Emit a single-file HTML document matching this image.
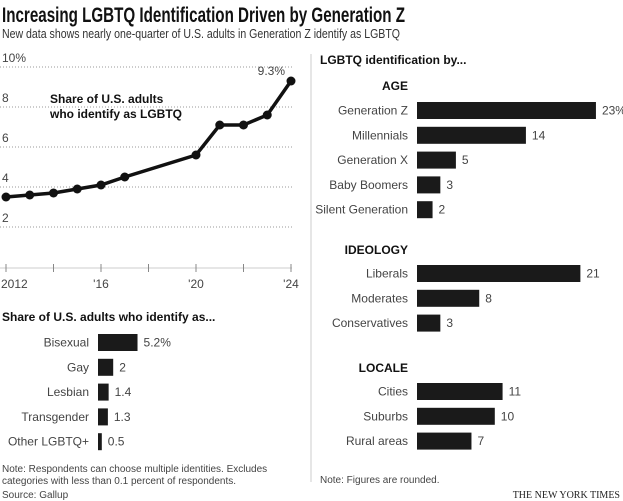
<!DOCTYPE html>
<html><head><meta charset="utf-8"><style>
body{margin:0;background:#fff}
svg{display:block;font-family:"Liberation Sans",sans-serif}
.g{fill:#444;font-size:12px}
.b{fill:#111;font-weight:bold;font-size:12px}
</style></head><body>
<svg id="c" width="623" height="501">
<text x="2" y="22" font-size="21" font-weight="bold" fill="#111" textLength="403" lengthAdjust="spacingAndGlyphs">Increasing LGBTQ Identification Driven by Generation Z</text>
<text x="2" y="38" font-size="13" fill="#333" textLength="398" lengthAdjust="spacingAndGlyphs">New data shows nearly one-quarter of U.S. adults in Generation Z identify as LGBTQ</text>
<line x1="311" y1="54" x2="311" y2="482" stroke="#ccc"/>
<g id="line"></g>
<text x="50" y="103" class="b">Share of U.S. adults</text>
<text x="50" y="118" class="b">who identify as LGBTQ</text>
<text x="2" y="321" class="b">Share of U.S. adults who identify as...</text>
<text x="320" y="64" class="b">LGBTQ identification by...</text>
<g id="bars"></g>
<text x="2" y="472" font-size="10" fill="#444">Note: Respondents can choose multiple identities. Excludes</text>
<text x="2" y="484" font-size="10" fill="#444">categories with less than 0.1 percent of respondents.</text>
<text x="2" y="498" font-size="10" fill="#444">Source: Gallup</text>
<text x="320" y="483" font-size="10" fill="#444">Note: Figures are rounded.</text>
<text x="620" y="498" font-size="10" font-family="Liberation Serif" fill="#222" text-anchor="end">THE NEW YORK TIMES</text>
</svg>
<script>
const years=[2012,2013,2014,2015,2016,2017,2020,2021,2022,2023,2024];
const shares=[3.5,3.6,3.7,3.9,4.1,4.5,5.6,7.1,7.1,7.6,9.3];
const yTicks=[2,4,6,8,10];
const xTickLabels=["2012","'16","'20","'24"];
const xTickYears=[2012,2016,2020,2024];
const ageCats=["Generation Z","Millennials","Generation X","Baby Boomers","Silent Generation"];
const ageVals=[23,14,5,3,2];
const ideoCats=["Liberals","Moderates","Conservatives"];
const ideoVals=[21,8,3];
const localeCats=["Cities","Suburbs","Rural areas"];
const localeVals=[11,10,7];
const typeCats=["Bisexual","Gay","Lesbian","Transgender","Other LGBTQ+"];
const typeVals=[5.2,2,1.4,1.3,0.5];
const NS="http://www.w3.org/2000/svg";
function mk(t,a,p,txt){const e=document.createElementNS(NS,t);for(const k in a)e.setAttribute(k,a[k]);if(txt!=null)e.textContent=txt;p.appendChild(e);return e;}
const X=y=>6+(y-2012)*23.75, Y=v=>227-(v-2)*20;
const L=document.getElementById('line');
yTicks.forEach(t=>{
 const l=mk('line',{x1:0,x2:292,y1:Y(t),y2:Y(t),stroke:'#999','stroke-dasharray':'1,2'},L);
 
 
 const tx=mk('text',{x:2,y:Y(t)-5,class:'g'},L,t===10?'10%':String(t));
 
 
});
const ax=mk('line',{x1:0,x2:292,y1:268,y2:268,stroke:'#ccc'},L);


for(let yr=2012;yr<=2024;yr+=2){const tk=mk('line',{x1:X(yr),x2:X(yr),y1:264,y2:272,stroke:'#888'},L);
 
 }
xTickYears.forEach((yr,i)=>{const t=mk('text',{x:X(yr),y:288,class:'g','text-anchor':i===0?'start':'middle'},L,xTickLabels[i]);
 if(i===0)t.setAttribute('x',X(yr)-5);
 
 });
const pl=mk('polyline',{points:years.map((y,i)=>X(y)+','+Y(shares[i])).join(' '),fill:'none',stroke:'#111','stroke-width':3.5},L);


years.forEach((y,i)=>{const c=mk('circle',{cx:X(y),cy:Y(shares[i]),r:4.5,fill:'#111'},L);
 
 });
const lab=mk('text',{x:X(2024)-6,y:Y(shares[10])-6,class:'g','text-anchor':'end'},L,shares[10]+'%');


const B=document.getElementById('bars');
function group(cats,vals,x0,y0,pct,scale){
 cats.forEach((c,i)=>{const cy=y0+i*24.8;
  const t=mk('text',{x:x0-9,y:cy+4.5,class:'g','text-anchor':'end'},B,c);
  
  
  const w=vals[i]*scale;
  const r=mk('rect',{x:x0,y:cy-8,width:w,height:17,fill:'#1a1a1a'},B);
  
  
  const v=mk('text',{x:x0+w+6,y:cy+4.5,class:'g'},B,vals[i]+(i===0&&pct?'%':''));
  
  });
}
function head(t,y){const h=mk('text',{x:408,y:y,class:'b','text-anchor':'end','font-size':11},B,t);
 
 }
head('AGE',90);head('IDEOLOGY',254);head('LOCALE',372);
group(ageCats,ageVals,417,110,true,7.78);
group(ideoCats,ideoVals,417,273,false,7.78);
group(localeCats,localeVals,417,391,false,7.78);
group(typeCats,typeVals,98,342,true,7.6);
</script>
</body></html>
